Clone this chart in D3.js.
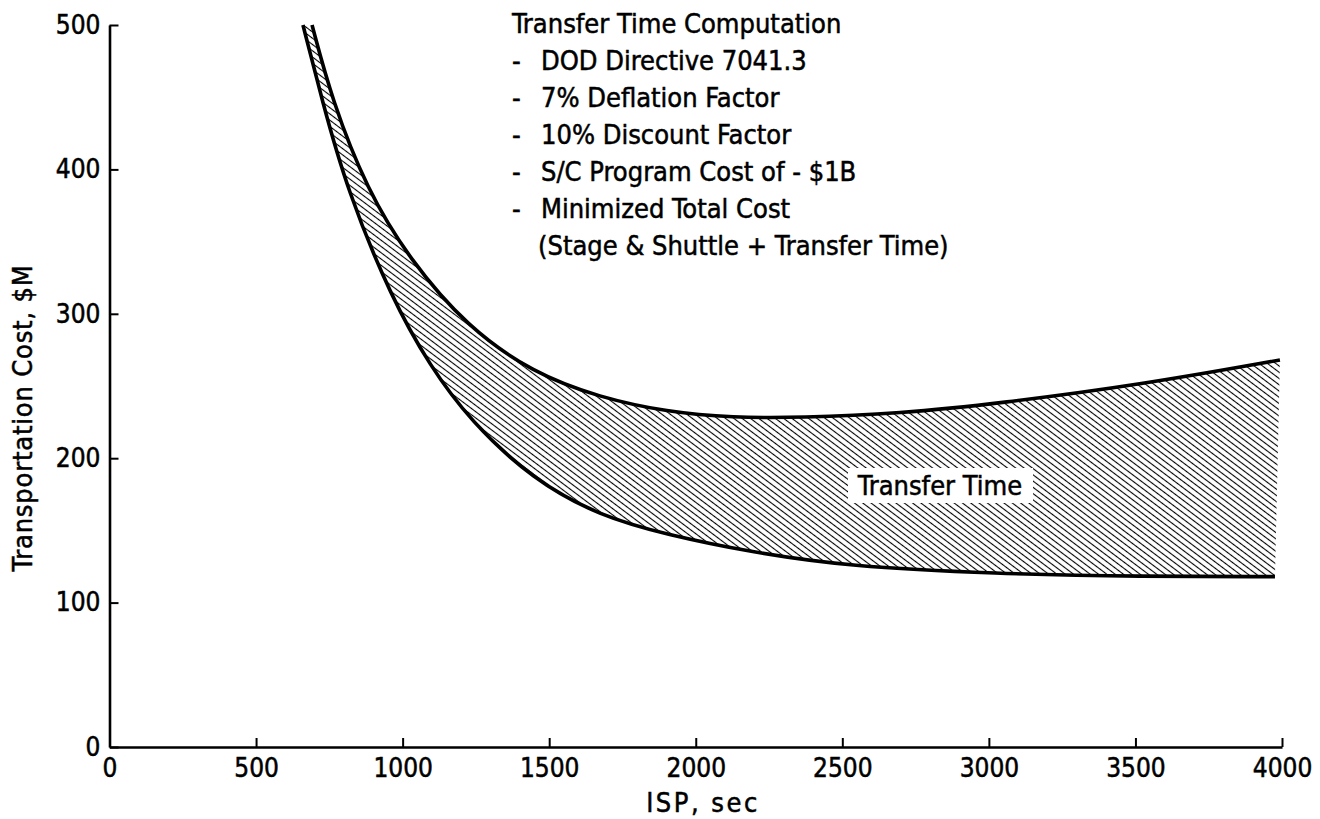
<!DOCTYPE html>
<html>
<head>
<meta charset="utf-8">
<script src="https://cdn.jsdelivr.net/npm/d3@7"></script>
<style>
  body { margin: 0; background: #fff; }
  svg text { font-family: "DejaVu Sans Condensed", "DejaVu Sans", sans-serif; font-stretch: condensed; fill: #000; stroke: #000; stroke-width: 0.5px; }
</style>
</head>
<body>
<svg id="chart" width="1320" height="819"></svg>
<script>
const svg = d3.select("#chart");

// axis ticks
const xTicks = [0, 500, 1000, 1500, 2000, 2500, 3000, 3500, 4000];
const yTicks = [0, 100, 200, 300, 400, 500];

// lower boundary of the band (ISP, $M)
const lowerIsp  = [660, 725, 810, 964, 1093, 1230, 1445, 1673, 1902, 2186, 2519, 3021, 3522, 3976];
const lowerCost = [500, 448, 386, 310, 264, 226, 185, 160, 147, 135, 125, 120, 118, 118];

// upper boundary of the band (ISP, $M)
const upperIsp  = [691, 759, 878, 1026, 1220, 1445, 1673, 1902, 2127, 2356, 2697, 3038, 3522, 3993];
const upperCost = [500, 448, 386, 337, 291, 259, 242, 232, 228, 228, 231, 238, 251, 268];

const noteTitle = "Transfer Time Computation";
const notes = [
  "DOD Directive 7041.3",
  "7% Deflation Factor",
  "10% Discount Factor",
  "S/C Program Cost of - $1B",
  "Minimized Total Cost"
];
const noteTail = "(Stage & Shuttle + Transfer Time)";

const x = d3.scaleLinear().domain([0, 4000]).range([109.5, 1282]);
const y = d3.scaleLinear().domain([0, 500]).range([747, 25]);

// hatch pattern
const defs = svg.append("defs");
defs.append("pattern")
  .attr("id", "hatch")
  .attr("patternUnits", "userSpaceOnUse")
  .attr("width", 12)
  .attr("height", 5)
  .attr("patternTransform", "rotate(37)")
  .append("line")
  .attr("x1", 0).attr("x2", 12)
  .attr("y1", 2.5).attr("y2", 2.5)
  .attr("stroke", "#000")
  .attr("stroke-width", 1.1);

const line = d3.line()
  .x(d => x(d[0]))
  .y(d => y(d[1]))
  .curve(d3.curveBasis);

const upperPts = d3.zip(upperIsp, upperCost);
const lowerPts = d3.zip(lowerIsp, lowerCost);

// hatched band between the two curves
const band = line(upperPts) + line(lowerPts.slice().reverse()).replace(/^M/, "L") + "Z";
svg.append("path")
  .attr("d", band)
  .attr("fill", "url(#hatch)")
  .attr("stroke", "none");

[upperPts, lowerPts].forEach(pts => {
  svg.append("path")
    .attr("d", line(pts))
    .attr("fill", "none")
    .attr("stroke", "#000")
    .attr("stroke-width", 3.6);
});

// axes
const xAxis = svg.append("g")
  .attr("transform", `translate(0,${y(0)})`)
  .call(d3.axisBottom(x).tickValues(xTicks).tickFormat(d3.format("d"))
    .tickSize(-9).tickSizeOuter(0).tickPadding(12));
const yAxis = svg.append("g")
  .attr("transform", `translate(${x(0)},0)`)
  .call(d3.axisLeft(y).tickValues(yTicks).tickFormat(d3.format("d"))
    .tickSize(-9).tickSizeOuter(0).tickPadding(9));

[xAxis, yAxis].forEach(g => {
  g.attr("font-family", null).attr("font-size", null);
  g.select(".domain").attr("stroke", "#000").attr("stroke-width", 2.6);
  g.selectAll(".tick line").attr("stroke", "#000").attr("stroke-width", 2);
  g.selectAll(".tick text")
    .attr("font-size", 26)
    .attr("fill", "#000");
});

// axis titles
svg.append("text")
  .attr("x", 703)
  .attr("y", 812)
  .attr("text-anchor", "middle")
  .attr("font-size", 27)
  .attr("letter-spacing", 2.5)
  .text("ISP, sec");

svg.append("text")
  .attr("transform", "translate(32,418) rotate(-90)")
  .attr("text-anchor", "middle")
  .attr("font-size", 27)
  .attr("letter-spacing", 0.8)
  .text("Transportation Cost, $M");

// notes block
const noteX = 512, textX = 541, noteTop = 33, step = 37;
svg.append("text")
  .attr("x", noteX).attr("y", noteTop)
  .attr("font-size", 27)
  .text(noteTitle);

notes.forEach((t, i) => {
  svg.append("text")
    .attr("x", noteX).attr("y", noteTop + step * (i + 1))
    .attr("font-size", 27)
    .text("-");
  svg.append("text")
    .attr("x", textX).attr("y", noteTop + step * (i + 1))
    .attr("font-size", 27)
    .text(t);
});

svg.append("text")
  .attr("x", textX - 3).attr("y", noteTop + step * (notes.length + 1))
  .attr("font-size", 27)
  .text(noteTail);

// label inside the band
svg.append("rect")
  .attr("x", 848).attr("y", 468)
  .attr("width", 185).attr("height", 35)
  .attr("fill", "#fff");
svg.append("text")
  .attr("x", 940).attr("y", 495)
  .attr("text-anchor", "middle")
  .attr("font-size", 27)
  .text("Transfer Time");
</script>
</body>
</html>
